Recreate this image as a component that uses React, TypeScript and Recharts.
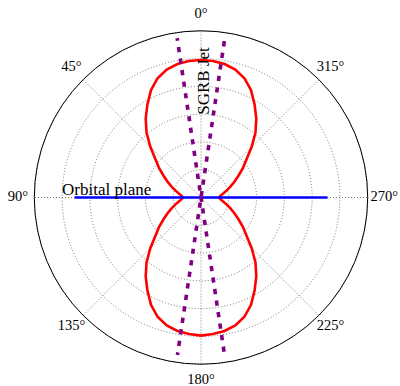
import { RadarChart, Radar, PolarGrid, PolarAngleAxis, PolarRadiusAxis } from "recharts";

// emission pattern, angle in degrees (0 = up, counter-clockwise), radius in grid units
const patternAngles = [
  0, 5, 10, 15, 20, 25, 30, 35, 40, 45, 50, 55, 60, 65, 70, 75, 80, 85,
  90, 95, 100, 105, 110, 115, 120, 125, 130, 135, 140, 145, 150, 155, 160, 165, 170, 175,
  180, 185, 190, 195, 200, 205, 210, 215, 220, 225, 230, 235, 240, 245, 250, 255, 260, 265,
  270, 275, 280, 285, 290, 295, 300, 305, 310, 315, 320, 325, 330, 335, 340, 345, 350, 355,
];
const patternRadius = [
  4.95, 4.93, 4.88, 4.77, 4.57, 4.26, 3.86, 3.47, 3.05, 2.58, 2.14, 1.84, 1.55, 1.32, 1.12, 0.95, 0.81, 0.7,
  0.65, 0.7, 0.81, 0.95, 1.12, 1.32, 1.55, 1.84, 2.14, 2.58, 3.05, 3.47, 3.86, 4.26, 4.57, 4.77, 4.88, 4.93,
  4.97, 4.93, 4.88, 4.77, 4.57, 4.26, 3.86, 3.47, 3.05, 2.58, 2.14, 1.84, 1.55, 1.32, 1.12, 0.95, 0.81, 0.7,
  0.65, 0.7, 0.81, 0.95, 1.12, 1.32, 1.55, 1.84, 2.14, 2.58, 3.05, 3.47, 3.86, 4.26, 4.57, 4.77, 4.88, 4.93,
];

const orbitAngles = [90, 270];
const orbitRadius = [4.55, 4.55];

const jetAAngles = [8.5, 188.5];
const jetARadius = [5.8, 5.73];
const jetBAngles = [171.5, 351.5];
const jetBRadius = [5.73, 5.8];

const angleTicks = [0, 45, 90, 135, 180, 225, 270, 315];
const radiusTicks = [1, 2, 3, 4, 5, 6];
const radiusDomain = [0, 6];

const toRows = (angles: number[], values: number[]) => angles.map((angle, i) => ({ angle, r: values[i] }));

const FONT = "'Liberation Serif', 'Times New Roman', serif";
const W = 400;
const H = 386;
const CX = 201;
const CY = 197.5;
const OUTER = 166.7;

// the jet polygon is drawn there and back (closed path), so pick a dash period
// that fits the round trip evenly and the two passes land on the same dashes
const UNIT = OUTER / radiusDomain[1];
const jetDash = (radii: number[]) => {
  const trip = 2 * (radii[0] + radii[1]) * UNIT;
  const period = trip / Math.round(trip / 11.6);
  return `5.2 ${(period - 5.2).toFixed(3)}`;
};

const AngleTick = (props: any) => {
  const { x, y, payload } = props;
  return (
    <text x={x} y={y - 1.75} textAnchor="middle" dominantBaseline="central" fontSize={14.5} fontFamily={FONT} fill="#000">
      {`${payload.value}°`}
    </text>
  );
};

const chartProps = {
  width: W,
  height: H,
  cx: CX,
  cy: CY,
  outerRadius: OUTER,
  startAngle: 90,
  endAngle: 450,
  margin: { top: 0, right: 0, bottom: 0, left: 0 },
};

const HiddenAxes = () => null;

const Overlay = ({ rows, children }: { rows: any[]; children: any }) => (
  <div style={{ position: "absolute", left: 0, top: 0, pointerEvents: "none" }}>
    <RadarChart {...chartProps} data={rows}>
      <PolarAngleAxis dataKey="angle" type="number" domain={[0, 360]} tick={false} tickLine={false} axisLine={false} />
      <PolarRadiusAxis domain={radiusDomain} tick={false} axisLine={false} />
      {children}
    </RadarChart>
  </div>
);

export default function App() {
  return (
    <div style={{ position: "absolute", left: 0, top: 0, width: W, height: H, background: "#fff" }}>
      <div style={{ position: "absolute", left: 0, top: 0 }}>
        <RadarChart {...chartProps} data={toRows(patternAngles, patternRadius)}>
          <PolarGrid gridType="circle" stroke="#555" strokeWidth={0.8} strokeDasharray="1 2" />
          <PolarAngleAxis
            dataKey="angle"
            type="number"
            domain={[0, 360]}
            ticks={angleTicks}
            axisLineType="circle"
            axisLine={{ stroke: "#000", strokeWidth: 1 }}
            tickLine={false}
            tickSize={16.5}
            tick={<AngleTick />}
          />
          <PolarRadiusAxis domain={radiusDomain} ticks={radiusTicks} tick={false} axisLine={false} />
          <Radar dataKey="r" stroke="#ff0000" strokeWidth={2.6} fill="none" isAnimationActive={false} />
        </RadarChart>
      </div>
      <Overlay rows={toRows(orbitAngles, orbitRadius)}>
        <Radar dataKey="r" stroke="#0000ff" strokeWidth={2.6} fill="none" isAnimationActive={false} />
      </Overlay>
      <Overlay rows={toRows(jetAAngles, jetARadius)}>
        <Radar dataKey="r" stroke="#800080" strokeWidth={3.6} strokeDasharray={jetDash(jetARadius)} strokeDashoffset={2.6} fill="none" isAnimationActive={false} />
      </Overlay>
      <Overlay rows={toRows(jetBAngles, jetBRadius)}>
        <Radar dataKey="r" stroke="#800080" strokeWidth={3.6} strokeDasharray={jetDash(jetBRadius)} strokeDashoffset={2.6} fill="none" isAnimationActive={false} />
      </Overlay>
      <svg width={W} height={H} style={{ position: "absolute", left: 0, top: 0, pointerEvents: "none" }}>
        <text x={62} y={194.5} fontSize={17} fontFamily={FONT} fill="#000">
          Orbital plane
        </text>
        <text x={209} y={81} fontSize={17} fontFamily={FONT} fill="#000" textAnchor="middle" transform="rotate(-90 209 81)">
          SGRB Jet
        </text>
      </svg>
    </div>
  );
}
